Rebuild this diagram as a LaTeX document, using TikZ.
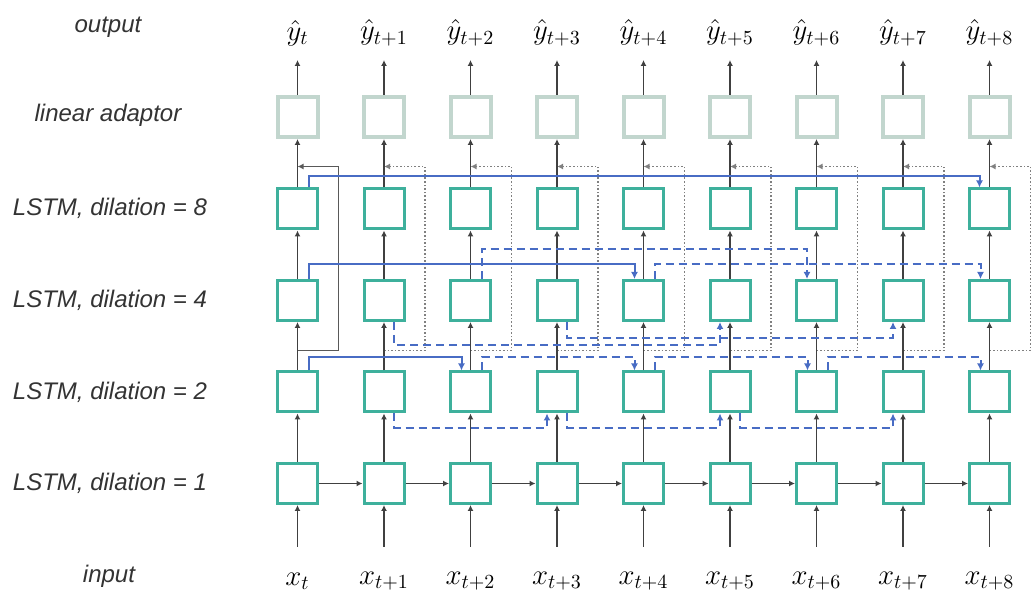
\documentclass[tikz,border=0pt]{standalone}
\usepackage{fontspec}
\setsansfont{Liberation Sans}
\usetikzlibrary{arrows.meta, positioning}

\definecolor{lstmteal}{RGB}{62,176,156}
\definecolor{adaptgray}{RGB}{194,214,206}
\definecolor{skipblue}{RGB}{72,108,196}

\begin{document}
\begin{tikzpicture}[
					x=0.5pt, y=-0.5pt,
					lstm/.style={rectangle, minimum size=20pt, inner sep=0pt, draw=lstmteal, line width=1.5pt, fill=white},
					adaptor/.style={rectangle, minimum size=20pt, inner sep=0pt, draw=adaptgray, line width=2pt, fill=white},
					rowlabel/.style={font=\sffamily\itshape\fontsize{12}{14}\selectfont, text=black!80},
					series/.style={font=\fontsize{14}{16}\selectfont, inner sep=1pt},
					arrow/.style={-{Latex[length=3pt, width=3pt]}, draw=black!75, line width=0.7pt},
					skip/.style={-{Latex[length=3.5pt, width=3.5pt]}, draw=skipblue, line width=1pt},
					skipdash/.style={skip, dash pattern=on 4pt off 2.5pt},
					resid/.style={-{Latex[length=3pt, width=3pt]}, draw=black!65, line width=0.8pt},
					residdot/.style={resid, draw=black!50, line width=0.7pt, dash pattern=on 0.8pt off 1pt}
					]
					\useasboundingbox (0,0) rectangle (1033,592);
					
					% row labels
					\node (lbl-out) [rowlabel] at (108,27) {output};
					\node (lbl-ad) [rowlabel] at (108,115) {linear adaptor};
					\node (lbl-l8) [rowlabel] at (110,208) {LSTM, dilation = 8};
					\node (lbl-l4) [rowlabel] at (110,300) {LSTM, dilation = 4};
					\node (lbl-l2) [rowlabel] at (110,392) {LSTM, dilation = 2};
					\node (lbl-l1) [rowlabel] at (110,483) {LSTM, dilation = 1};
					\node (lbl-in) [rowlabel] at (109,576) {input};
					
					% one column per time step
					\foreach \i in {0,...,8} {
						\pgfmathsetmacro{\cx}{297.5+86.5*\i}
						\node (yh-\i) [series] at (\cx,33) {\ifnum\i=0 $\hat{y}_t$\else $\hat{y}_{t+\i}$\fi};
						\node (ad-\i) [adaptor] at (\cx,117) {};
						\node (l8-\i) [lstm] at (\cx,209) {};
						\node (l4-\i) [lstm] at (\cx,300.5) {};
						\node (l2-\i) [lstm] at (\cx,392) {};
						\node (l1-\i) [lstm] at (\cx,483.5) {};
						\node (x-\i) [series] at (\cx,581) {\ifnum\i=0 $x_t$\else $x_{t+\i}$\fi};
						\coordinate (in-\i) at (\cx,547);
						\coordinate (out-\i) at (\cx,60);
					}
					
					% residual connections
					\draw [resid] ([yshift=10pt]l2-0.north) -- ++(20.5pt,0) |- ([yshift=10.5pt]l8-0.north);
					\foreach \i in {1,...,8}
						\draw [residdot] ([yshift=10pt]l2-\i.north) -- ++(20.5pt,0) |- ([yshift=10.5pt]l8-\i.north);
					
					% stack
					\foreach \i in {0,...,8} {
						\draw [arrow] (in-\i) -- (l1-\i);
						\draw [arrow] (l1-\i) -- (l2-\i);
						\draw [arrow] (l2-\i) -- (l4-\i);
						\draw [arrow] (l4-\i) -- (l8-\i);
						\draw [arrow] (l8-\i) -- (ad-\i);
						\draw [arrow] (ad-\i) -- (out-\i);
					}
					
					% dilation 1
					\foreach \i [count=\j] in {0,...,7}
						\draw [arrow] (l1-\i) -- (l1-\j);
					
					% dilation 2
					\draw [skip] ([xshift=5.5pt]l2-0.north) -- ++(0,6.5pt) -| ([xshift=-4.5pt]l2-2.north);
					\foreach \i/\j in {2/4,4/6,6/8}
						\draw [skipdash] ([xshift=5.5pt]l2-\i.north) -- ++(0,6.5pt) -| ([xshift=-4.5pt]l2-\j.north);
					\foreach \i/\j in {1/3,3/5,5/7}
						\draw [skipdash] ([xshift=5pt]l2-\i.south) -- ++(0,-7.25pt) -| ([xshift=-5pt]l2-\j.south);
					
					% dilation 4
					\draw [skip] ([xshift=5.5pt]l4-0.north) -- ++(0,7.5pt) -| ([xshift=-4.5pt]l4-4.north);
					\draw [skipdash] ([xshift=5.5pt]l4-4.north) -- ++(0,7.5pt) -| ([xshift=-4.5pt]l4-8.north);
					\draw [skipdash] ([xshift=5.5pt]l4-2.north) -- ++(0,15pt) -| ([xshift=-4.75pt]l4-6.north);
					\draw [skipdash] ([xshift=5pt]l4-1.south) -- ++(0,-11.5pt) -| ([xshift=-5pt]l4-5.south);
					\draw [skipdash] ([xshift=5pt]l4-3.south) -- ++(0,-8pt) -| ([xshift=-5pt]l4-7.south);
					
					% dilation 8
					\draw [skip] ([xshift=5.5pt]l8-0.north) -- ++(0,5.75pt) -| ([xshift=-5pt]l8-8.north);
				\end{tikzpicture}
\end{document}
